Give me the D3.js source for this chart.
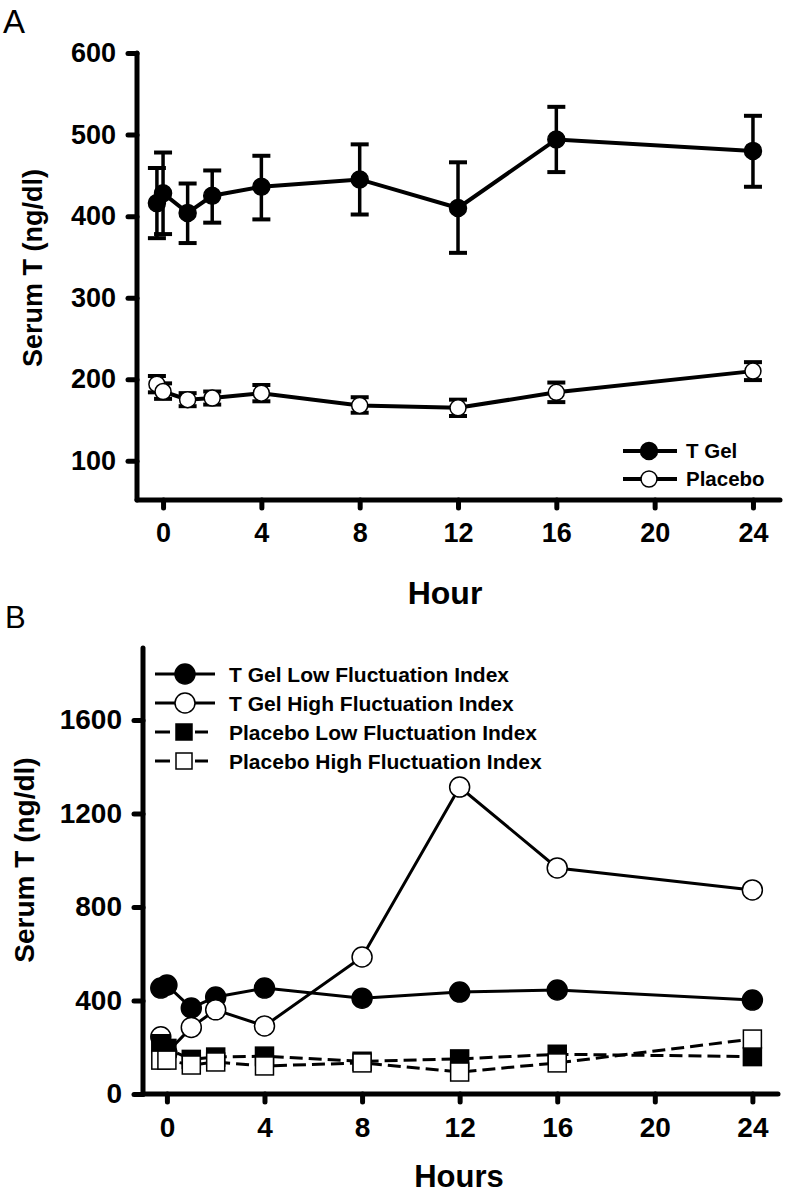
<!DOCTYPE html>
<html><head><meta charset="utf-8">
<script src="https://cdn.jsdelivr.net/npm/d3@7"></script>
<style>body{margin:0;background:#fff}svg{display:block}text{font-family:"Liberation Sans",Arial,sans-serif;font-weight:bold;fill:#000}</style>
</head><body><svg id="c" width="788" height="1193"></svg>
<script>
// ---- data ----
const hours = [-0.25, 0, 1, 2, 4, 8, 12, 16, 24];
const xTicks = [0, 4, 8, 12, 16, 20, 24];
const yTicksA = [100, 200, 300, 400, 500, 600];
const yTicksB = [0, 400, 800, 1200, 1600];

const tGelA = [416, 428, 404, 425, 436, 445, 410, 494, 480];
const tGelAHi = [459, 478, 440, 456, 474, 488, 466, 534, 523];
const tGelALo = [373, 378, 367, 392, 396, 402, 355, 454, 436];
const placeboA = [194, 185, 175, 177, 183, 168, 165, 184, 210];
const placeboAHi = [204, 195, 183, 185, 193, 178, 175, 196, 221];
const placeboALo = [184, 176, 167, 169, 173, 159, 155, 172, 199];

const tGelLow = [453, 466, 368, 415, 453, 410, 436, 445, 402];
const tGelHigh = [245, 176, 285, 360, 291, 586, 1313, 967, 873];
const placeboLow = [215, 195, 148, 158, 162, 140, 150, 170, 160];
const placeboHigh = [145, 145, 124, 137, 120, 133, 94, 133, 235];

const legendA = ["T Gel", "Placebo"];
const legendB = ["T Gel Low Fluctuation Index", "T Gel High Fluctuation Index", "Placebo Low Fluctuation Index", "Placebo High Fluctuation Index"];

const svg = d3.select("#c");
const FONT = "'Liberation Sans',Arial,sans-serif";

// ---- Panel A ----
const xA = d3.scaleLinear().domain([-1.06, 25.1]).range([137, 780]);
const yA = d3.scaleLinear().domain([52, 600]).range([500, 53]);
const gA = svg.append("g");

svg.append("text").attr("x", 3).attr("y", 33).style("font-weight", "normal").style("font-size", "33px").text("A");

function drawAxes(g, x, y, yTicks, xDom, yDom, fs) {
  g.append("line").attr("x1", x(xDom[0])).attr("x2", x(xDom[1])).attr("y1", y(yDom[0])).attr("y2", y(yDom[0]))
    .attr("stroke", "#000").attr("stroke-width", 5).attr("stroke-linecap", "round");
  g.append("line").attr("x1", x(xDom[0])).attr("x2", x(xDom[0])).attr("y1", y(yDom[0])).attr("y2", y(yDom[1]))
    .attr("stroke", "#000").attr("stroke-width", 5).attr("stroke-linecap", "round");
  const x0 = x(xDom[0]);
  const yAxis = d3.axisLeft(y).tickValues(yTicks).tickFormat(d3.format("d")).tickSize(9).tickPadding(12);
  const ga = g.append("g").attr("transform", `translate(${x0},0)`).call(yAxis);
  ga.select(".domain").remove();
  ga.selectAll(".tick line").attr("stroke", "#000").attr("stroke-width", 5).attr("stroke-linecap", "round");
  ga.selectAll(".tick text").style("font-size", fs + "px").style("font-family", FONT).style("font-weight", "bold").attr("fill", "#000");
  const xAxis = d3.axisBottom(x).tickValues(xTicks).tickFormat(d3.format("d")).tickSize(8).tickPadding(15);
  const gx = g.append("g").attr("transform", `translate(0,${y(yDom[0])})`).call(xAxis);
  gx.select(".domain").remove();
  gx.selectAll(".tick line").attr("stroke", "#000").attr("stroke-width", 5).attr("stroke-linecap", "round");
  gx.selectAll(".tick text").style("font-size", fs + "px").style("font-family", FONT).style("font-weight", "bold").attr("fill", "#000");
}
drawAxes(gA, xA, yA, yTicksA, [-1.06, 25.1], [52, 600], 27);

gA.append("text").attr("transform", "translate(42,268) rotate(-90)").attr("text-anchor", "middle").style("font-size", "27px").text("Serum T (ng/dl)");
gA.append("text").attr("x", 445).attr("y", 604).attr("text-anchor", "middle").style("font-size", "32px").text("Hour");

function errSeries(g, vals, hi, lo, fill, r) {
  const line = d3.line().x((d, i) => xA(hours[i])).y(d => yA(d));
  hours.forEach((h, i) => {
    g.append("line").attr("x1", xA(h)).attr("x2", xA(h)).attr("y1", yA(hi[i])).attr("y2", yA(lo[i])).attr("stroke", "#000").attr("stroke-width", 3.5);
    [hi[i], lo[i]].forEach(v => g.append("line").attr("x1", xA(h) - 9).attr("x2", xA(h) + 9).attr("y1", yA(v)).attr("y2", yA(v)).attr("stroke", "#000").attr("stroke-width", 4));
  });
  g.append("path").datum(vals).attr("d", line).attr("fill", "none").attr("stroke", "#000").attr("stroke-width", 4);
  g.selectAll(null).data(vals).enter().append("circle").attr("cx", (d, i) => xA(hours[i])).attr("cy", d => yA(d))
    .attr("r", r).attr("fill", fill).attr("stroke", "#000").attr("stroke-width", 1.5);
}
errSeries(gA, tGelA, tGelAHi, tGelALo, "#000", 8.5);
errSeries(gA, placeboA, placeboAHi, placeboALo, "#fff", 8);

// legend A
const legAY = [451, 479];
legendA.forEach((t, i) => {
  gA.append("line").attr("x1", 623).attr("x2", 677).attr("y1", legAY[i]).attr("y2", legAY[i]).attr("stroke", "#000").attr("stroke-width", 4);
  gA.append("circle").attr("cx", 649).attr("cy", legAY[i]).attr("r", i === 0 ? 8.5 : 8).attr("fill", i === 0 ? "#000" : "#fff").attr("stroke", "#000").attr("stroke-width", 1.5);
  gA.append("text").attr("x", 686).attr("y", legAY[i]).attr("dy", "0.36em").style("font-size", "20.5px").text(t);
});

// ---- Panel B ----
const xB = d3.scaleLinear().domain([-0.98, 25.05]).range([143, 778]);
const yB = d3.scaleLinear().domain([0, 1908]).range([1094, 648]);
const gB = svg.append("g");
svg.append("text").attr("x", 5).attr("y", 628).style("font-weight", "normal").style("font-size", "31px").text("B");
drawAxes(gB, xB, yB, yTicksB, [-0.98, 25.05], [0, 1908], 28);
gB.append("text").attr("transform", "translate(34,860) rotate(-90)").attr("text-anchor", "middle").style("font-size", "28px").text("Serum T (ng/dl)");
gB.append("text").attr("x", 459).attr("y", 1187).attr("text-anchor", "middle").style("font-size", "31px").text("Hours");

function seriesB(vals, shape, fill, dash) {
  const line = d3.line().x((d, i) => xB(hours[i])).y(d => yB(d));
  gB.append("path").datum(vals).attr("d", line).attr("fill", "none").attr("stroke", "#000").attr("stroke-width", 3)
    .attr("stroke-dasharray", dash ? "13,6" : null);
  const sel = gB.selectAll(null).data(vals).enter();
  if (shape === "circle") {
    sel.append("circle").attr("cx", (d, i) => xB(hours[i])).attr("cy", d => yB(d)).attr("r", 10)
      .attr("fill", fill).attr("stroke", "#000").attr("stroke-width", 1.5);
  } else {
    sel.append("rect").attr("x", (d, i) => xB(hours[i]) - 9).attr("y", d => yB(d) - 9).attr("width", 18).attr("height", 18)
      .attr("fill", fill).attr("stroke", "#000").attr("stroke-width", 1.5);
  }
}
seriesB(tGelLow, "circle", "#000", false);
seriesB(tGelHigh, "circle", "#fff", false);
seriesB(placeboLow, "rect", "#000", true);
seriesB(placeboHigh, "rect", "#fff", true);

// legend B
const legBY = [674, 703, 732, 761];
legendB.forEach((t, i) => {
  const dashed = i >= 2;
  if (dashed) {
    gB.append("line").attr("x1", 155).attr("x2", 170).attr("y1", legBY[i]).attr("y2", legBY[i]).attr("stroke", "#000").attr("stroke-width", 3);
    gB.append("line").attr("x1", 195).attr("x2", 208).attr("y1", legBY[i]).attr("y2", legBY[i]).attr("stroke", "#000").attr("stroke-width", 3);
    gB.append("rect").attr("x", 176).attr("y", legBY[i] - 8).attr("width", 16).attr("height", 16)
      .attr("fill", i === 2 ? "#000" : "#fff").attr("stroke", "#000").attr("stroke-width", 1.5);
  } else {
    gB.append("line").attr("x1", 155).attr("x2", 215).attr("y1", legBY[i]).attr("y2", legBY[i]).attr("stroke", "#000").attr("stroke-width", 3);
    gB.append("circle").attr("cx", 185).attr("cy", legBY[i]).attr("r", 10)
      .attr("fill", i === 0 ? "#000" : "#fff").attr("stroke", "#000").attr("stroke-width", 1.5);
  }
  gB.append("text").attr("x", 229).attr("y", legBY[i]).attr("dy", "0.36em").style("font-size", "21px").text(t);
});
</script></body></html>
